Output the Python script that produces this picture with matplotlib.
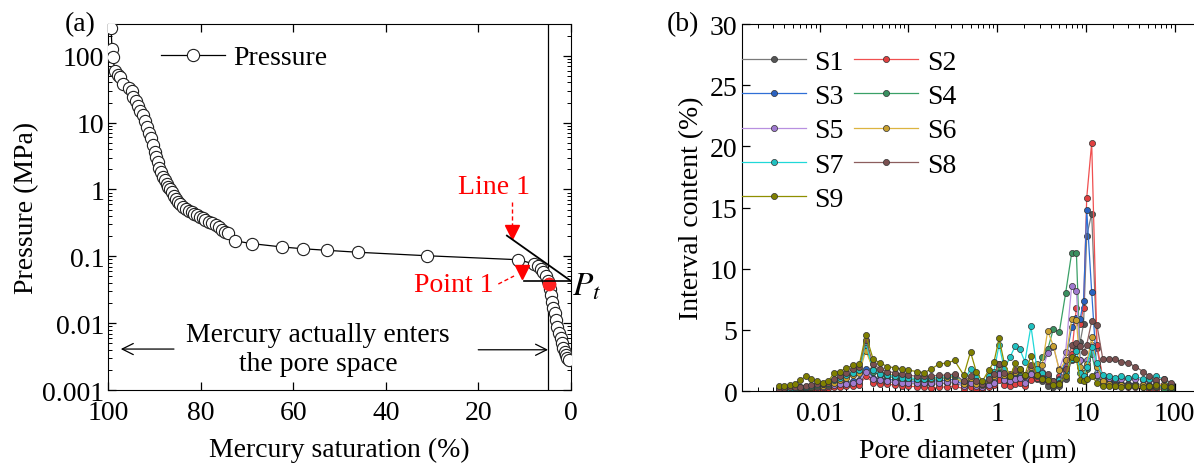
import numpy as np
import matplotlib
matplotlib.use("Agg")
import matplotlib.pyplot as plt
from matplotlib.ticker import FixedLocator, FixedFormatter, LogLocator, NullFormatter, FuncFormatter

plt.rcParams['font.family'] = ['Liberation Serif', 'DejaVu Serif']
plt.rcParams['mathtext.fontset'] = 'stix'
plt.rcParams['font.size'] = 20

FS = 20

# ---------------- (a) mercury intrusion curve ----------------
saturation = [99.6, 99.4, 99.2, 99.0, 98.6, 98.0, 97.4, 96.8, 95.6, 94.9, 94.6, 94.1, 93.6,
              93.1, 92.6, 92.1, 91.6, 91.1, 90.7, 90.3, 89.9, 89.6, 89.3, 89.0, 88.7, 88.2,
              87.8, 87.4, 87.0, 86.6, 86.2, 85.8, 85.4, 84.9, 84.5, 83.9, 83.3, 82.6, 82.0,
              81.4, 80.8, 80.2, 79.6, 79.0, 78.3, 77.5, 76.7, 76.0, 75.4, 74.8, 74.2, 72.5,
              69.0, 62.4, 58.0, 52.7, 46.0, 31.0, 11.4, 7.9, 7.0, 6.4, 5.9, 5.4, 5.0, 4.8,
              4.5, 4.2, 4.0, 3.8, 3.5, 3.2, 2.9, 2.6, 2.2, 1.9, 1.6, 1.3, 1.0, 0.7, 0.4]
pressure = [300, 257, 128, 95, 60, 52, 48, 38, 33, 29.5, 24.5, 21, 18,
            15, 12.8, 10.5, 8.6, 7.0, 5.8, 4.6, 3.7, 3.1, 2.6, 2.1, 1.8, 1.55,
            1.37, 1.2, 1.09, 1.0, 0.91, 0.8, 0.72, 0.66, 0.61, 0.55, 0.51, 0.48, 0.46,
            0.43, 0.41, 0.39, 0.37, 0.35, 0.33, 0.31, 0.29, 0.27, 0.25, 0.235, 0.22, 0.17,
            0.155, 0.138, 0.13, 0.123, 0.115, 0.102, 0.089, 0.077, 0.072, 0.065, 0.058, 0.05, 0.043, 0.039,
            0.032, 0.026, 0.021, 0.017, 0.014, 0.011, 0.0088, 0.0072, 0.006, 0.005, 0.0043, 0.0037, 0.0033, 0.003, 0.0028]

point1_sat, point1_p = 4.8, 0.039
threshold_p = 0.043
boundary_sat = 4.85
line1_sat = [13.8, 0.0]
line1_p = [0.204, 0.043]

# ---------------- (b) pore size distribution ----------------
diameter = [0.0035, 0.004, 0.0046, 0.0053, 0.006, 0.007, 0.008, 0.0093, 0.0108, 0.0125,
            0.0145, 0.017, 0.02, 0.024, 0.028, 0.033, 0.04, 0.048, 0.058, 0.07, 0.085, 0.1,
            0.125, 0.15, 0.18, 0.22, 0.27, 0.33, 0.42, 0.5, 0.58, 0.68, 0.8, 0.92, 1.05,
            1.2, 1.4, 1.6, 1.8, 2.05, 2.4, 2.8, 3.2, 3.7, 4.3, 5.0, 5.9,
            6.9, 7.8, 8.6, 9.4, 10.2, 11.6, 13.3, 15.5,
            18, 21, 25, 30, 36, 44, 52, 62, 75, 90]

s1 = [0.1, 0.1, 0.15, 0.15, 0.2, 0.2, 0.25, 0.3, 0.3, 0.35,
      0.4, 0.45, 0.5, 0.6, 0.7, 1.4, 0.9, 0.8, 0.75, 0.7, 0.65, 0.6,
      0.6, 0.55, 0.55, 0.6, 0.65, 0.7, 0.4, 0.6, 0.35, 0.3, 0.4, 0.6, 1.2,
      0.8, 0.7, 0.9, 1.0, 0.6, 1.2, 1.0, 0.8, 0.4, 0.3, 0.4, 1.0,
      2.5, 3.5, 4.0, 5.5, 12.7, 14.5, 3.5, 1.0,
      0.8, 0.7, 0.6, 0.6, 0.5, 0.5, 0.4, 0.4, 0.3, 0.2]
s2 = [0.05, 0.05, 0.1, 0.1, 0.1, 0.15, 0.15, 0.2, 0.2, 0.25,
      0.3, 0.35, 0.4, 0.45, 0.5, 1.2, 0.7, 0.6, 0.55, 0.5, 0.45, 0.4,
      0.35, 0.3, 0.25, 0.3, 0.35, 0.4, 0.2, 0.35, 0.15, 0.1, 0.3, 0.5, 0.9,
      0.5, 0.4, 0.6, 0.7, 0.4, 0.9, 1.1, 1.0, 0.8, 0.6, 1.2, 2.0,
      3.0, 6.8, 5.5, 6.8, 15.8, 20.3, 3.8, 1.0,
      0.5, 0.4, 0.4, 0.3, 0.3, 0.3, 0.2, 0.2, 0.1, 0.1]
s3 = [0.1, 0.15, 0.2, 0.2, 0.25, 0.3, 0.35, 0.4, 0.45, 0.5,
      0.6, 0.65, 0.7, 0.8, 0.9, 1.8, 1.1, 1.0, 0.95, 0.9, 0.85, 0.8,
      0.8, 0.75, 0.8, 0.85, 0.9, 0.95, 0.5, 0.8, 0.5, 0.4, 0.6, 0.8, 1.5,
      1.0, 0.9, 1.2, 1.3, 0.8, 1.5, 1.4, 1.2, 1.0, 0.7, 1.0, 2.5,
      5.2, 6.0, 5.9, 7.4, 14.8, 8.1, 1.5, 0.8,
      0.7, 0.7, 0.6, 0.6, 0.6, 0.5, 0.5, 0.4, 0.3, 0.2]
s4 = [0.15, 0.2, 0.2, 0.25, 0.3, 0.35, 0.4, 0.5, 0.55, 0.6,
      0.8, 1.0, 1.2, 1.4, 1.6, 3.8, 1.6, 1.3, 1.2, 1.1, 1.0, 0.95,
      0.9, 0.9, 0.95, 1.0, 1.1, 1.2, 0.6, 1.0, 0.6, 0.5, 0.8, 1.1, 2.0,
      1.2, 1.1, 1.5, 1.6, 1.2, 1.8, 1.6, 2.8, 3.4, 5.1, 4.8, 8.0,
      11.3, 11.3, 2.5, 1.3, 1.8, 3.0, 1.2, 0.6,
      0.5, 0.5, 0.5, 0.4, 0.4, 0.4, 0.3, 0.3, 0.2, 0.1]
s5 = [0.1, 0.1, 0.15, 0.2, 0.2, 0.25, 0.3, 0.3, 0.35, 0.4,
      0.5, 0.55, 0.6, 0.7, 0.8, 1.6, 1.0, 0.9, 0.8, 0.75, 0.7, 0.7,
      0.7, 0.65, 0.7, 0.7, 0.75, 0.8, 0.4, 0.7, 0.4, 0.3, 0.5, 0.7, 1.4,
      0.9, 0.8, 1.0, 1.1, 0.7, 1.4, 1.2, 1.6, 3.1, 3.6, 1.8, 3.2,
      8.6, 8.2, 2.5, 1.2, 2.5, 3.8, 1.3, 0.9,
      1.1, 1.0, 1.0, 1.1, 1.0, 0.9, 0.9, 0.7, 0.5, 0.3]
s6 = [0.1, 0.15, 0.2, 0.2, 0.25, 0.3, 0.35, 0.4, 0.45, 0.5,
      0.7, 0.9, 1.1, 1.3, 1.5, 3.3, 1.8, 1.5, 1.4, 1.3, 1.2, 1.1,
      1.0, 1.0, 1.0, 1.1, 1.1, 1.2, 0.6, 1.1, 0.6, 0.5, 0.9, 1.2, 2.2,
      1.3, 1.2, 1.6, 1.7, 1.2, 2.0, 2.2, 2.1, 4.9, 3.7, 1.7, 2.5,
      5.9, 5.8, 2.0, 1.5, 2.2, 4.4, 2.0, 0.8,
      0.6, 0.5, 0.5, 0.5, 0.5, 0.5, 0.4, 0.4, 0.6, 0.5]
s7 = [0.15, 0.2, 0.2, 0.25, 0.3, 0.35, 0.4, 0.5, 0.55, 0.6,
      0.9, 1.1, 1.3, 1.5, 1.7, 4.0, 1.7, 1.4, 1.3, 1.2, 1.1, 1.1,
      1.0, 1.0, 1.1, 1.1, 1.2, 1.3, 0.8, 1.8, 1.2, 0.6, 1.2, 1.6, 3.8,
      1.8, 2.8, 3.7, 3.4, 2.4, 5.3, 1.8, 1.5, 1.2, 0.8, 0.9, 1.6,
      2.6, 3.3, 1.5, 1.2, 2.0, 3.6, 2.3, 1.3,
      1.2, 1.1, 1.2, 1.1, 1.2, 1.0, 1.0, 1.2, 1.0, 0.6]
s8 = [0.2, 0.25, 0.3, 0.3, 0.35, 0.4, 0.5, 0.55, 0.6, 0.7,
      1.0, 1.2, 1.5, 1.8, 2.0, 4.2, 2.2, 1.8, 1.6, 1.5, 1.4, 1.3,
      1.2, 1.2, 1.2, 1.3, 1.3, 1.4, 0.8, 1.2, 0.8, 0.6, 1.0, 1.4, 2.2,
      1.5, 1.4, 1.7, 1.8, 1.3, 2.1, 1.3, 1.1, 1.4, 0.8, 0.7, 1.8,
      3.8, 3.9, 3.7, 3.2, 3.8, 5.7, 5.4, 2.6,
      2.6, 2.6, 2.4, 2.3, 2.0, 1.6, 1.2, 0.9, 1.0, 0.7]
s9 = [0.4, 0.4, 0.5, 0.6, 0.9, 1.2, 1.0, 0.8, 0.7, 0.8,
      1.5, 1.6, 1.9, 2.1, 2.2, 4.6, 2.6, 2.3, 2.0, 1.9, 1.8, 1.7,
      1.6, 1.5, 1.8, 2.2, 2.3, 2.5, 1.3, 3.2, 1.6, 0.8, 1.7, 2.4, 4.3,
      2.3, 1.2, 2.3, 1.8, 1.3, 2.9, 1.3, 1.0, 0.9, 0.5, 0.6, 1.2,
      2.8, 2.6, 0.9, 0.8, 1.0, 1.2, 0.7, 0.4,
      0.4, 0.4, 0.3, 0.4, 0.4, 0.3, 0.4, 0.5, 0.4, 0.3]

sample_names = ['S1', 'S2', 'S3', 'S4', 'S5', 'S6', 'S7', 'S8', 'S9']
sample_values = [s1, s2, s3, s4, s5, s6, s7, s8, s9]
sample_colors = ['#7a7a7a', '#f05050', '#2f6fd6', '#3aa067', '#b890e0',
                 '#dcb440', '#20d8d8', '#8c5e5e', '#8f8f00']
marker_faces = ['#555555', '#e04040', '#2a62c0', '#3a9060', '#a07ad0',
                '#c8a030', '#20c0c0', '#7a5050', '#808000']

fig = plt.figure(figsize=(11.94, 4.64), dpi=100)

# ---------- panel (a) ----------
axa = fig.add_axes([0.0907, 0.1573, 0.3873, 0.789])
axa.set_yscale('log')
axa.plot(saturation, pressure, '-', color='black', lw=0.9, marker='o', ms=8.8,
         mfc='white', mec='#202020', mew=0.8, zorder=3, label='Pressure')
axa.plot([point1_sat], [point1_p], 'o', ms=8.8, mfc='#ff2020', mec='#ff2020', zorder=4)
axa.axvline(boundary_sat, color='black', lw=0.9, zorder=2)
axa.plot(line1_sat, line1_p, color='black', lw=1.3, zorder=5)
axa.plot([10.2, 0.0], [threshold_p, threshold_p], color='black', lw=1.2, zorder=5)

axa.set_xlim(100, 0)
axa.set_ylim(0.001, 300)
axa.set_xticks([100, 80, 60, 40, 20, 0])
axa.yaxis.set_major_locator(FixedLocator([0.001, 0.01, 0.1, 1, 10, 100]))
axa.yaxis.set_major_formatter(FixedFormatter(['0.001', '0.01', '0.1', '1', '10', '100']))
axa.yaxis.set_minor_locator(LogLocator(base=10, subs=np.arange(2, 10), numticks=20))
axa.yaxis.set_minor_formatter(NullFormatter())
axa.tick_params(which='both', direction='in', top=True, right=True, labelsize=FS)
axa.tick_params(which='major', length=6, width=0.9)
axa.tick_params(which='minor', length=3, width=0.7)
axa.tick_params(axis='x', pad=7)
axa.tick_params(axis='y', pad=3)
axa.set_xlabel('Mercury saturation (%)', fontsize=FS, labelpad=9)
axa.set_ylabel('Pressure (MPa)', fontsize=FS, labelpad=2)

# red labels with dashed pointers
axa.text(16.65, 1.1, 'Line 1', color='red', fontsize=FS, ha='center', va='center')
axa.plot([12.7, 12.7], [0.655, 0.276], color='red', lw=1.0, ls=(0, (3, 2)))
axa.plot([12.7], [0.228], marker='v', ms=10.5, color='red', mec='red')
axa.text(25.3, 0.0385, 'Point 1', color='red', fontsize=FS, ha='center', va='center')
axa.plot([15.66, 12.26], [0.0385, 0.0508], color='red', lw=1.0, ls=(0, (3, 2)))
axa.plot([10.6], [0.0574], marker='v', ms=10.5, color='red', mec='red', zorder=6)

axa.text(-3.5, 0.036, r'$P_t$', fontsize=24, ha='center', va='center', clip_on=False)
axa.text(54.6, 0.0041, 'Mercury actually enters\nthe pore space', fontsize=FS,
         ha='center', va='center', linespacing=1.2)
axa.annotate('', xy=(97.3, 0.0041), xytext=(85.8, 0.0041),
             arrowprops=dict(arrowstyle='->', color='black', lw=0.9, shrinkA=0, shrinkB=0))
axa.annotate('', xy=(4.9, 0.0040), xytext=(20.0, 0.0040),
             arrowprops=dict(arrowstyle='->', color='black', lw=0.9, shrinkA=0, shrinkB=0))

leg_a = axa.legend(loc='upper left', bbox_to_anchor=(0.114, 0.943), frameon=False,
                   fontsize=FS, handlelength=2.3, handletextpad=0.3,
                   borderpad=0, borderaxespad=0)

fig.text(0.067, 0.946, '(a)', fontsize=FS, ha='center', va='center')

# ---------- panel (b) ----------
axb = fig.add_axes([0.6212, 0.155, 0.3788, 0.791])
axb.set_xscale('log')
lines = []
for name, vals, col, fc in zip(sample_names, sample_values, sample_colors, marker_faces):
    ln, = axb.plot(diameter, vals, '-', color=col, lw=0.9, marker='o', ms=4.4,
                   mfc=fc, mec='#303030', mew=0.5, label=name)
    lines.append(ln)

axb.set_xlim(1.32e-3, 165)
axb.set_ylim(0, 30)
axb.set_yticks([0, 5, 10, 15, 20, 25, 30])
axb.xaxis.set_major_locator(FixedLocator([0.01, 0.1, 1, 10, 100]))
axb.xaxis.set_major_formatter(FuncFormatter(lambda v, p: '%g' % v))
axb.xaxis.set_minor_locator(LogLocator(base=10, subs=np.arange(2, 10), numticks=20))
axb.xaxis.set_minor_formatter(NullFormatter())
axb.spines['right'].set_visible(False)
axb.tick_params(which='both', direction='in', top=True, right=False, labelsize=FS)
axb.tick_params(which='major', length=6, width=0.9)
axb.tick_params(which='minor', length=3, width=0.7)
axb.tick_params(axis='x', pad=7)
axb.tick_params(axis='y', pad=3)
axb.set_xlabel('Pore diameter (μm)', fontsize=FS, labelpad=9)
axb.set_ylabel('Interval content (%)', fontsize=FS, labelpad=4)

order = [0, 2, 4, 6, 8, 1, 3, 5, 7]
leg_b = axb.legend([lines[i] for i in order], [sample_names[i] for i in order],
                   loc='upper left', bbox_to_anchor=(0.0, 0.931), ncol=2, frameon=False,
                   fontsize=FS, handlelength=2.3, handletextpad=0.3, columnspacing=0.4,
                   labelspacing=0.32, borderpad=0, borderaxespad=0)

fig.text(0.572, 0.946, '(b)', fontsize=FS, ha='center', va='center')

fig.savefig('out.png', dpi=100)
